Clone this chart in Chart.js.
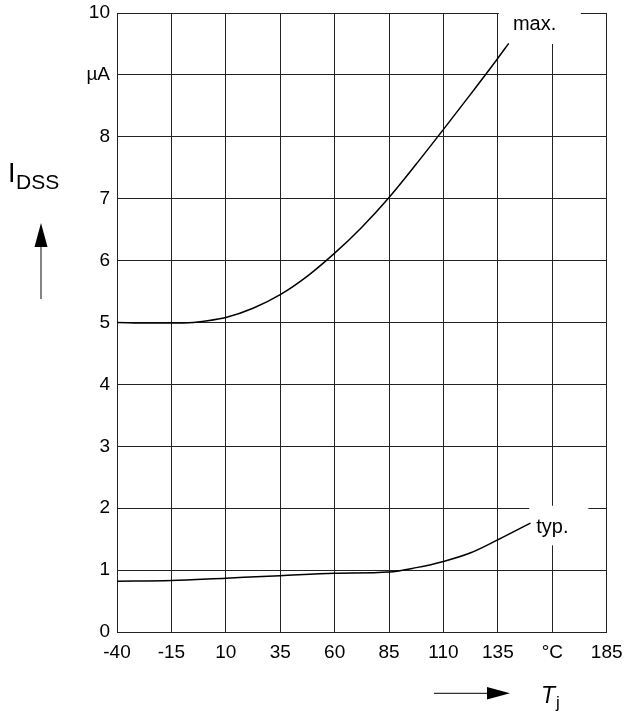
<!DOCTYPE html>
<html>
<head>
<meta charset="utf-8">
<script src="https://cdn.jsdelivr.net/npm/chart.js@4/dist/chart.umd.min.js"></script>
<style>
html,body{margin:0;padding:0;background:#fff;}
#wrap{width:626px;height:715px;position:relative;}
</style>
</head>
<body>
<div id="wrap"><canvas id="c" width="626" height="715"></canvas></div>
<script>
// Data
const tempMax = [-40, -25, -15, -5, 0, 10, 22.5, 35, 47.5, 60, 72.5, 85, 97.5, 110, 122.5, 135, 140];
const idssMax = [5.0, 4.99, 4.99, 5.0, 5.02, 5.08, 5.23, 5.45, 5.75, 6.12, 6.54, 7.02, 7.56, 8.12, 8.69, 9.27, 9.51];
const tempTyp = [-40, -15, 10, 35, 60, 85, 97.5, 110, 122.5, 135, 150];
const idssTyp = [0.82, 0.83, 0.87, 0.91, 0.95, 0.97, 1.04, 1.14, 1.28, 1.49, 1.76];
const xTickOverrides = {160: '°C'};
const yTickOverrides = {9: 'µA'};
const seriesLabels = ['max.', 'typ.'];

const FONT = 'Liberation Sans, Arial, sans-serif';

const overlay = {
  id: 'overlay',
  beforeDatasetsDraw(chart) {
    const {ctx, scales: {x, y}} = chart;
    ctx.save();
    ctx.fillStyle = '#fff';
    const x135 = x.getPixelForValue(135), x160 = x.getPixelForValue(160);
    ctx.fillRect(x135 + 1, 0, 82, y.getPixelForValue(9.5));
    ctx.fillRect(x160 - 23, y.getPixelForValue(2.04), 59, y.getPixelForValue(1.4) - y.getPixelForValue(2.04));
    ctx.restore();
  },
  afterDraw(chart) {
    const {ctx, scales: {x, y}} = chart;
    ctx.save();
    ctx.fillStyle = '#000';
    ctx.strokeStyle = '#000';
    ctx.textBaseline = 'alphabetic';
    ctx.textAlign = 'left';
    ctx.font = '20px ' + FONT;
    ctx.fillText(seriesLabels[0], x.getPixelForValue(135) + 15, 30);
    ctx.fillText(seriesLabels[1], x.getPixelForValue(160) - 16, 533);
    // Y title
    ctx.font = '27px ' + FONT;
    ctx.fillText('I', 8, 182);
    ctx.font = '21px ' + FONT;
    ctx.fillText('DSS', 16, 189);
    // up arrow
    ctx.lineWidth = 1.2;
    ctx.strokeStyle = '#333';
    ctx.beginPath(); ctx.moveTo(41, 299); ctx.lineTo(41, 240); ctx.stroke();
    ctx.fillStyle = '#000';
    ctx.beginPath(); ctx.moveTo(41, 223); ctx.lineTo(47.5, 247); ctx.lineTo(34.5, 247); ctx.closePath(); ctx.fill();
    // right arrow
    ctx.beginPath(); ctx.moveTo(434, 693.3); ctx.lineTo(495, 693.3); ctx.stroke();
    ctx.beginPath(); ctx.moveTo(510, 693.3); ctx.lineTo(487, 687); ctx.lineTo(487, 699.6); ctx.closePath(); ctx.fill();
    // T_j
    ctx.font = 'italic 23px ' + FONT;
    ctx.fillText('T', 541, 703);
    ctx.font = '17px ' + FONT;
    ctx.fillText('j', 556, 708);
    ctx.restore();
  }
};

new Chart(document.getElementById('c'), {
  type: 'line',
  data: {
    datasets: [
      {label: seriesLabels[0], data: tempMax.map((t, i) => ({x: t, y: idssMax[i]})),
       borderColor: '#000', borderWidth: 1.5, pointRadius: 0, cubicInterpolationMode: 'monotone', fill: false},
      {label: seriesLabels[1], data: tempTyp.map((t, i) => ({x: t, y: idssTyp[i]})),
       borderColor: '#000', borderWidth: 1.5, pointRadius: 0, cubicInterpolationMode: 'monotone', fill: false}
    ]
  },
  options: {
    responsive: false,
    animation: false,
    devicePixelRatio: 1,
    layout: {padding: {top: 13, right: 19.3, left: 0, bottom: 0}},
    plugins: {legend: {display: false}, tooltip: {enabled: false}},
    scales: {
      x: {
        type: 'linear', min: -40, max: 185,
        ticks: {stepSize: 25, color: '#000', font: {family: FONT, size: 19}, padding: 9,
                maxRotation: 0, autoSkip: false,
                callback: v => (xTickOverrides[v] !== undefined ? xTickOverrides[v] : v)},
        grid: {color: '#222', lineWidth: 1, drawTicks: false},
        border: {color: '#222', width: 1},
        afterFit: s => { s.height = 83; s.paddingLeft = 0; s.paddingRight = 0; }
      },
      y: {
        type: 'linear', min: 0, max: 10,
        ticks: {stepSize: 1, color: '#000', font: {family: FONT, size: 19}, padding: 7,
                autoSkip: false,
                callback: v => (yTickOverrides[v] !== undefined ? yTickOverrides[v] : v)},
        grid: {color: '#222', lineWidth: 1, drawTicks: false},
        border: {color: '#222', width: 1},
        afterFit: s => { s.width = 117; s.paddingTop = 0; s.paddingBottom = 0; }
      }
    }
  },
  plugins: [overlay]
});
</script>
</body>
</html>
